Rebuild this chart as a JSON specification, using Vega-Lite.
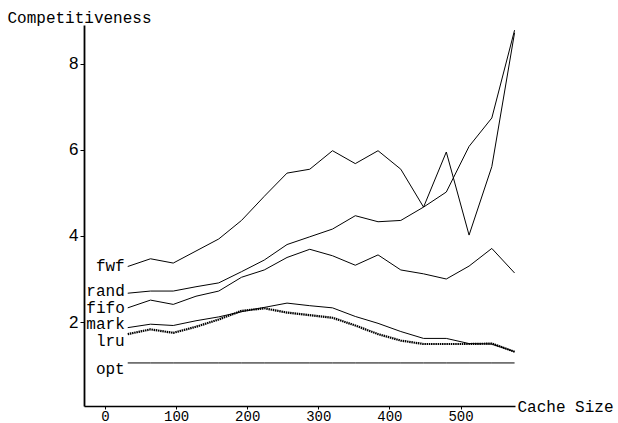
{
  "$schema": "https://vega.github.io/schema/vega-lite/v6.json",
  "width": 431,
  "height": 381,
  "autosize": {"type": "none"},
  "padding": {"left": 84, "top": 25, "right": 103, "bottom": 17},
  "background": "white",
  "config": {"view": {"stroke": null}},
  "datasets": {
    "series": [
      {"s": "fwf", "x": 32, "v": 3.29}, {"s": "fwf", "x": 64, "v": 3.47}, {"s": "fwf", "x": 96, "v": 3.37}, {"s": "fwf", "x": 128, "v": 3.65}, {"s": "fwf", "x": 160, "v": 3.93}, {"s": "fwf", "x": 192, "v": 4.36}, {"s": "fwf", "x": 224, "v": 4.92}, {"s": "fwf", "x": 256, "v": 5.46}, {"s": "fwf", "x": 288, "v": 5.55}, {"s": "fwf", "x": 320, "v": 5.98}, {"s": "fwf", "x": 352, "v": 5.68}, {"s": "fwf", "x": 384, "v": 5.98}, {"s": "fwf", "x": 416, "v": 5.55}, {"s": "fwf", "x": 448, "v": 4.67}, {"s": "fwf", "x": 480, "v": 5.95}, {"s": "fwf", "x": 512, "v": 4.02}, {"s": "fwf", "x": 544, "v": 5.61}, {"s": "fwf", "x": 576, "v": 8.72},
      {"s": "rand", "x": 32, "v": 2.67}, {"s": "rand", "x": 64, "v": 2.72}, {"s": "rand", "x": 96, "v": 2.72}, {"s": "rand", "x": 128, "v": 2.82}, {"s": "rand", "x": 160, "v": 2.91}, {"s": "rand", "x": 192, "v": 3.17}, {"s": "rand", "x": 224, "v": 3.44}, {"s": "rand", "x": 256, "v": 3.8}, {"s": "rand", "x": 288, "v": 3.98}, {"s": "rand", "x": 320, "v": 4.16}, {"s": "rand", "x": 352, "v": 4.47}, {"s": "rand", "x": 384, "v": 4.33}, {"s": "rand", "x": 416, "v": 4.36}, {"s": "rand", "x": 448, "v": 4.67}, {"s": "rand", "x": 480, "v": 5.02}, {"s": "rand", "x": 512, "v": 6.08}, {"s": "rand", "x": 544, "v": 6.74}, {"s": "rand", "x": 576, "v": 8.78},
      {"s": "fifo", "x": 32, "v": 2.33}, {"s": "fifo", "x": 64, "v": 2.51}, {"s": "fifo", "x": 96, "v": 2.41}, {"s": "fifo", "x": 128, "v": 2.6}, {"s": "fifo", "x": 160, "v": 2.72}, {"s": "fifo", "x": 192, "v": 3.04}, {"s": "fifo", "x": 224, "v": 3.21}, {"s": "fifo", "x": 256, "v": 3.5}, {"s": "fifo", "x": 288, "v": 3.69}, {"s": "fifo", "x": 320, "v": 3.54}, {"s": "fifo", "x": 352, "v": 3.32}, {"s": "fifo", "x": 384, "v": 3.56}, {"s": "fifo", "x": 416, "v": 3.21}, {"s": "fifo", "x": 448, "v": 3.12}, {"s": "fifo", "x": 480, "v": 3.0}, {"s": "fifo", "x": 512, "v": 3.3}, {"s": "fifo", "x": 544, "v": 3.71}, {"s": "fifo", "x": 576, "v": 3.14},
      {"s": "mark", "x": 32, "v": 1.87}, {"s": "mark", "x": 64, "v": 1.95}, {"s": "mark", "x": 96, "v": 1.92}, {"s": "mark", "x": 128, "v": 2.03}, {"s": "mark", "x": 160, "v": 2.12}, {"s": "mark", "x": 192, "v": 2.24}, {"s": "mark", "x": 224, "v": 2.34}, {"s": "mark", "x": 256, "v": 2.44}, {"s": "mark", "x": 288, "v": 2.38}, {"s": "mark", "x": 320, "v": 2.33}, {"s": "mark", "x": 352, "v": 2.13}, {"s": "mark", "x": 384, "v": 1.97}, {"s": "mark", "x": 416, "v": 1.78}, {"s": "mark", "x": 448, "v": 1.62}, {"s": "mark", "x": 480, "v": 1.62}, {"s": "mark", "x": 512, "v": 1.5}, {"s": "mark", "x": 544, "v": 1.49}, {"s": "mark", "x": 576, "v": 1.31},
      {"s": "lru", "x": 32, "v": 1.72}, {"s": "lru", "x": 64, "v": 1.83}, {"s": "lru", "x": 96, "v": 1.75}, {"s": "lru", "x": 128, "v": 1.89}, {"s": "lru", "x": 160, "v": 2.06}, {"s": "lru", "x": 192, "v": 2.26}, {"s": "lru", "x": 224, "v": 2.32}, {"s": "lru", "x": 256, "v": 2.22}, {"s": "lru", "x": 288, "v": 2.16}, {"s": "lru", "x": 320, "v": 2.1}, {"s": "lru", "x": 352, "v": 1.92}, {"s": "lru", "x": 384, "v": 1.72}, {"s": "lru", "x": 416, "v": 1.57}, {"s": "lru", "x": 448, "v": 1.49}, {"s": "lru", "x": 480, "v": 1.49}, {"s": "lru", "x": 512, "v": 1.49}, {"s": "lru", "x": 544, "v": 1.5}, {"s": "lru", "x": 576, "v": 1.31},
      {"s": "opt", "x": 32, "v": 1.05}, {"s": "opt", "x": 64, "v": 1.05}, {"s": "opt", "x": 96, "v": 1.05}, {"s": "opt", "x": 128, "v": 1.05}, {"s": "opt", "x": 160, "v": 1.05}, {"s": "opt", "x": 192, "v": 1.05}, {"s": "opt", "x": 224, "v": 1.05}, {"s": "opt", "x": 256, "v": 1.05}, {"s": "opt", "x": 288, "v": 1.05}, {"s": "opt", "x": 320, "v": 1.05}, {"s": "opt", "x": 352, "v": 1.05}, {"s": "opt", "x": 384, "v": 1.05}, {"s": "opt", "x": 416, "v": 1.05}, {"s": "opt", "x": 448, "v": 1.05}, {"s": "opt", "x": 480, "v": 1.05}, {"s": "opt", "x": 512, "v": 1.05}, {"s": "opt", "x": 544, "v": 1.05}, {"s": "opt", "x": 576, "v": 1.05}
    ],
    "labels": [
      {"s": "fwf", "x": 32, "v": 3.3},
      {"s": "rand", "x": 32, "v": 2.72},
      {"s": "fifo", "x": 32, "v": 2.33},
      {"s": "mark", "x": 32, "v": 1.95},
      {"s": "lru", "x": 32, "v": 1.56},
      {"s": "opt", "x": 32, "v": 0.91}
    ]
  },
  "layer": [
    {
      "data": {"name": "series"},
      "transform": [{"filter": "datum.s !== 'lru'"}],
      "mark": {"type": "line", "color": "black", "strokeWidth": 1, "clip": false},
      "encoding": {
        "x": {
          "field": "x", "type": "quantitative",
          "scale": {"domain": [-29.5, 576.6], "nice": false, "zero": false},
          "axis": {
            "values": [0, 100, 200, 300, 400, 500],
            "title": "Cache Size",
            "titleFont": "Liberation Mono", "titleFontSize": 16, "titleFontWeight": "normal", "titleColor": "black",
            "titleX": 433, "titleY": 0, "titleAlign": "left", "titleBaseline": "middle", "titleAnchor": null,
            "labelFont": "Liberation Mono", "labelFontSize": 14, "labelColor": "black", "labelPadding": 0, "labelFlush": false,
            "tickColor": "black", "tickSize": 3, "tickWidth": 1,
            "domainColor": "black", "domainWidth": 1.5, "grid": false
          }
        },
        "y": {
          "field": "v", "type": "quantitative",
          "scale": {"domain": [0.05, 8.9], "nice": false, "zero": false},
          "axis": {
            "values": [2, 4, 6, 8],
            "title": "Competitiveness",
            "titleFont": "Liberation Mono", "titleFontSize": 16, "titleFontWeight": "normal", "titleColor": "black",
            "titleAngle": 0, "titleX": -77, "titleY": -8, "titleAlign": "left", "titleBaseline": "middle", "titleAnchor": null,
            "labelFont": "Liberation Sans", "labelFontSize": 17, "labelColor": "black", "labelPadding": 2,
            "tickColor": "black", "tickSize": 4, "tickWidth": 1,
            "domainColor": "black", "domainWidth": 1.8, "grid": false
          }
        },
        "detail": {"field": "s"}
      }
    },
    {
      "data": {"name": "series"},
      "transform": [{"filter": "datum.s === 'lru'"}],
      "mark": {"type": "line", "color": "black", "strokeWidth": 2.2, "strokeDash": [1.5, 0.7], "clip": false},
      "encoding": {
        "x": {"field": "x", "type": "quantitative"},
        "y": {"field": "v", "type": "quantitative"}
      }
    },
    {
      "data": {"name": "labels"},
      "mark": {"type": "text", "align": "right", "baseline": "middle", "dx": -3, "font": "Liberation Mono", "fontSize": 16, "color": "black"},
      "encoding": {
        "x": {"field": "x", "type": "quantitative"},
        "y": {"field": "v", "type": "quantitative"},
        "text": {"field": "s"}
      }
    }
  ]
}
